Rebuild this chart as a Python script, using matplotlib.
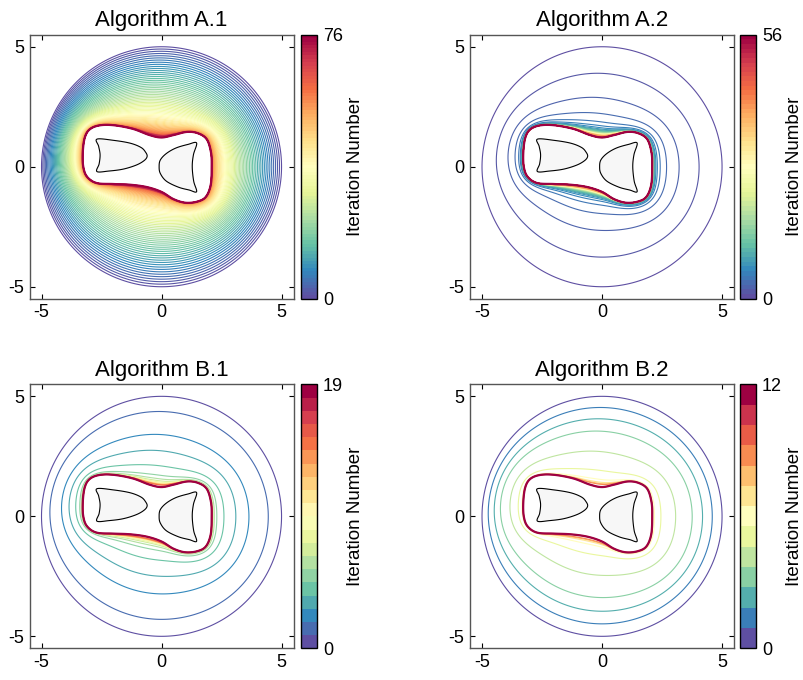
import numpy as np
import matplotlib
matplotlib.use('Agg')
import matplotlib.pyplot as plt
from matplotlib.colors import ListedColormap, BoundaryNorm
from matplotlib.cm import ScalarMappable
from matplotlib.patches import Polygon

plt.rcParams['font.family'] = ['Liberation Sans', 'DejaVu Sans']
plt.rcParams['axes.unicode_minus'] = False

titles = ['Algorithm A.1', 'Algorithm A.2', 'Algorithm B.1', 'Algorithm B.2']
max_iter = [76, 56, 19, 12]

# fraction of the gap (final front -> start circle) left after each iteration
prog_a1 = [1.0, 0.971, 0.943, 0.915, 0.887, 0.860, 0.833, 0.806, 0.780, 0.754,
           0.729, 0.704, 0.679, 0.655, 0.631, 0.607, 0.584, 0.562, 0.539, 0.517,
           0.496, 0.475, 0.454, 0.434, 0.414, 0.395, 0.376, 0.357, 0.339, 0.321,
           0.304, 0.287, 0.271, 0.255, 0.239, 0.224, 0.209, 0.195, 0.181, 0.168,
           0.155, 0.142, 0.131, 0.119, 0.108, 0.0974, 0.0873, 0.0777, 0.0687, 0.0601,
           0.052, 0.0445, 0.0375, 0.031, 0.025, 0.0197, 0.015, 0.0108, 0.0072, 0.0043,
           0.0021, 0.0006, 0.0003, 0.0002, 0.00015, 0.0001, 0.00008, 0.00006, 0.00004, 0.00003,
           0.00002, 0.00001, 0.0, 0.0, 0.0, 0.0, 0.0]
prog_a2 = [1.0, 0.67, 0.38, 0.2, 0.11, 0.07, 0.05, 0.038, 0.03, 0.024,
           0.02, 0.017, 0.014, 0.012, 0.01, 0.0085, 0.0072, 0.0061, 0.0052, 0.0044,
           0.0037, 0.0031, 0.0026, 0.0022, 0.0018, 0.0015, 0.0012, 0.001, 0.0008, 0.0006,
           0.0005, 0.0004, 0.0003, 0.0002, 0.00015, 0.0001, 0.00008, 0.00006, 0.00004, 0.00003,
           0.00002, 0.00001, 0.0, 0.0, 0.0, 0.0, 0.0, 0.0, 0.0, 0.0,
           0.0, 0.0, 0.0, 0.0, 0.0, 0.0, 0.0]
prog_b1 = [1.0, 0.81, 0.53, 0.34, 0.17, 0.07, 0.035, 0.018, 0.009, 0.005,
           0.003, 0.0015, 0.0008, 0.0004, 0.0002, 0.0001, 0.0, 0.0, 0.0, 0.0]
prog_b2 = [1.0, 0.86, 0.72, 0.57, 0.33, 0.12, 0.03, 0.008, 0.002, 0.0005,
           0.0, 0.0, 0.0]
progress = [prog_a1, prog_a2, prog_b1, prog_b2]

start_radius = 5.0

# final front (red curve)
front_x = [2.09, 2.06, 1.88, 1.5, 1.05, 0.5, 0.0, -0.5, -1.2, -2.0, -2.6, -3.0,
           -3.2, -3.28, -3.26, -3.1, -2.7, -2.0, -1.3, -0.6, 0.0, 0.5, 1.0, 1.5,
           1.85, 2.05]
front_y = [0.0, 0.6, 1.15, 1.4, 1.45, 1.32, 1.22, 1.32, 1.58, 1.73, 1.72, 1.55,
           1.2, 0.6, 0.0, -0.42, -0.68, -0.72, -0.75, -0.85, -1.05, -1.35, -1.5, -1.45,
           -1.25, -0.75]

# obstacles
obs1_x = [-0.6, -0.66, -0.85, -1.3, -2.0, -2.69, -2.62, -2.56, -2.6, -2.69,
          -2.2, -1.6, -1.05, -0.72]
obs1_y = [0.43, 0.6, 0.8, 0.98, 1.1, 1.15, 0.85, 0.5, 0.12, -0.2,
          -0.18, -0.1, 0.07, 0.26]
obs2_x = [-0.1, -0.05, 0.2, 0.7, 1.15, 1.46, 1.34, 1.28, 1.33, 1.46,
          1.1, 0.6, 0.2, -0.05]
obs2_y = [0.0, -0.28, -0.6, -0.85, -0.97, -1.04, -0.6, 0.0, 0.5, 0.99,
          0.93, 0.78, 0.55, 0.28]


def smooth_closed(xs, ys, n=30):
    p = np.column_stack([xs, ys])
    m = len(p)
    t = np.linspace(0, 1, n, endpoint=False)[:, None]
    out = []
    for i in range(m):
        p0, p1, p2, p3 = p[i - 1], p[i], p[(i + 1) % m], p[(i + 2) % m]
        out.append(0.5 * (2 * p1 + (-p0 + p2) * t
                          + (2 * p0 - 5 * p1 + 4 * p2 - p3) * t ** 2
                          + (-p0 + 3 * p1 - 3 * p2 + p3) * t ** 3))
    out = np.vstack(out)
    return out[:, 0], out[:, 1]


def convex_hull(x, y):
    pts = sorted(set(zip(np.round(x, 6), np.round(y, 6))))

    def cross(o, a, b):
        return (a[0] - o[0]) * (b[1] - o[1]) - (a[1] - o[1]) * (b[0] - o[0])
    lower, upper = [], []
    for q in pts:
        while len(lower) >= 2 and cross(lower[-2], lower[-1], q) <= 0:
            lower.pop()
        lower.append(q)
    for q in reversed(pts):
        while len(upper) >= 2 and cross(upper[-2], upper[-1], q) <= 0:
            upper.pop()
        upper.append(q)
    h = np.array(lower[:-1] + upper[:-1] + [lower[0]])
    hx, hy = [], []
    for a, b in zip(h[:-1], h[1:]):
        s = np.linspace(0, 1, 25, endpoint=False)
        hx.append(a[0] + (b[0] - a[0]) * s)
        hy.append(a[1] + (b[1] - a[1]) * s)
    return np.concatenate(hx), np.concatenate(hy)


cx, cy = -0.6, 0.15
npts = 1440
phi = np.linspace(-np.pi, np.pi, npts, endpoint=False)
modes = np.arange(npts // 2 + 1)


def polar_r(x, y):
    a = np.arctan2(y - cy, x - cx)
    r = np.hypot(x - cx, y - cy)
    o = np.argsort(a)
    return np.interp(phi, a[o], r[o], period=2 * np.pi)


def circ_smooth(r, sigma):
    if sigma <= 0:
        return r
    f = np.fft.rfft(r)
    f *= np.exp(-0.5 * (sigma * modes) ** 2)
    return np.fft.irfft(f, n=len(r))


fx, fy = smooth_closed(front_x, front_y)
r_front = polar_r(fx, fy)
hx, hy = convex_hull(fx, fy)
r_hull = np.maximum(circ_smooth(polar_r(hx, hy), 0.06), r_front)
b = cx * np.cos(phi) + cy * np.sin(phi)
r_start = -b + np.sqrt(b ** 2 - (cx ** 2 + cy ** 2) + start_radius ** 2)


def front_at(gk):
    if gk >= 1:
        r = r_start
    else:
        s = gk ** 0.15 if gk > 0 else 0.0
        sig = 0.35 * np.sqrt(gk)
        rf = circ_smooth(r_front, sig)
        rh = circ_smooth(r_hull, sig)
        r = (1 - gk) * (rf + (rh - rf) * s) + gk * r_start
        r = np.maximum(r, r_front)
    return np.column_stack([cx + r * np.cos(phi), cy + r * np.sin(phi)])


obstacles = [np.column_stack(smooth_closed(obs1_x, obs1_y)),
             np.column_stack(smooth_closed(obs2_x, obs2_y))]

fig = plt.figure(figsize=(8.04, 6.8), dpi=100)
ax_pos = [(0.0367, 0.5607), (0.5846, 0.5607), (0.0367, 0.0466), (0.5846, 0.0466)]
cb_left = [0.3744, 0.9204, 0.3744, 0.9204]
w, h = 0.3284, 0.3882

base = plt.get_cmap('Spectral_r')
for i in range(4):
    n = max_iter[i]
    cmap = ListedColormap(base(np.linspace(0, 1, n + 1)))
    norm = BoundaryNorm(np.linspace(0, n, n + 2), n + 1)
    ax = fig.add_axes([ax_pos[i][0], ax_pos[i][1], w, h])
    g = progress[i]
    for k in range(n + 1):
        lw, z = (1.6, 3) if k == n else (0.8, 2)
        ax.add_patch(Polygon(front_at(g[k]), closed=True, fill=False,
                             edgecolor=cmap(k), lw=lw, zorder=z))
    for ob in obstacles:
        ax.add_patch(Polygon(ob, closed=True, facecolor='#f7f7f7',
                             edgecolor='black', lw=0.8, zorder=4))
    ax.set_xlim(-5.5, 5.5)
    ax.set_ylim(-5.5, 5.5)
    ax.set_xticks([-5, 0, 5])
    ax.set_yticks([-5, 0, 5])
    ax.tick_params(direction='in', top=True, right=True, length=3.5, width=0.8,
                   labelsize=13, pad=4)
    for sp in ax.spines.values():
        sp.set_color('#555555')
        sp.set_linewidth(1.0)
    ax.set_title(titles[i], fontsize=16, pad=6)

    cax = fig.add_axes([cb_left[i], ax_pos[i][1], 0.0205, h])
    cb = fig.colorbar(ScalarMappable(norm=norm, cmap=cmap), cax=cax, ticks=[0, n])
    cb.ax.minorticks_off()
    cb.ax.set_yticklabels(['0', str(n)])
    cb.ax.tick_params(which='both', length=0, labelsize=13, pad=4)
    cb.outline.set_linewidth(1.0)
    cb.set_label('Iteration Number', fontsize=13.5, labelpad=3)

fig.savefig('out.png', dpi=100)
